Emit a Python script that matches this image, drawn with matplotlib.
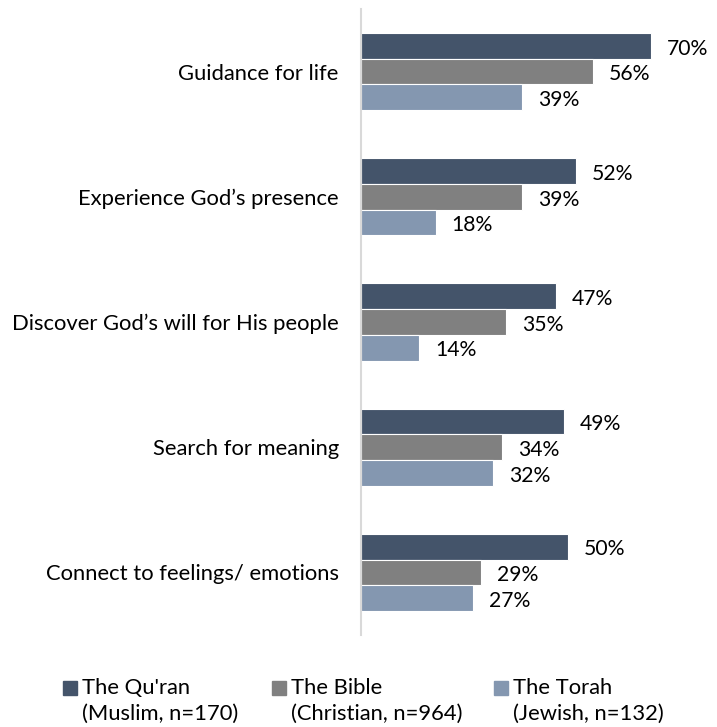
import numpy as np
import matplotlib
matplotlib.use("Agg")
import matplotlib.pyplot as plt
from matplotlib.patches import Rectangle

plt.rcParams['font.family'] = ['Lato', 'DejaVu Sans']

categories = ["Guidance for life", "Experience God\u2019s presence",
              "Discover God\u2019s will for His people", "Search for meaning",
              "Connect to feelings/ emotions"]
quran = [70, 52, 47, 49, 50]
bible = [56, 39, 35, 34, 29]
torah = [39, 18, 14, 32, 27]
series_names = ["The Qu'ran", "The Bible", "The Torah"]
series_notes = ["(Muslim, n=170)", "(Christian, n=964)", "(Jewish, n=132)"]
colors = ["#44546A", "#808080", "#8497B0"]

fig = plt.figure(figsize=(7.17, 7.27), dpi=100)
ax = fig.add_axes([361 / 717, 1 - 635 / 727, 1 - 361 / 717, 626 / 727])

n = len(categories)
y = np.arange(n)
h = 77 / 125 / 3
for i, (vals, col) in enumerate(zip([quran, bible, torah], colors)):
    pos = y - h + i * h
    bars = ax.barh(pos, vals, height=h, color=col, edgecolor="white", linewidth=0.8)
    for b, v in zip(bars, vals):
        ax.annotate(f"{v}%", (b.get_width(), b.get_y() + b.get_height() / 2),
                    xytext=(11.5, -2), textcoords="offset points",
                    va="center", ha="left", fontsize=15.2, color="#000000")

ax.set_ylim(n - 0.5, -0.5)
ax.set_xlim(0, (717 - 361) / 4.14)
ax.set_yticks(y)
ax.set_yticklabels(categories, fontsize=15.8)
ax.tick_params(axis="y", length=0, pad=16)
ax.set_xticks([])
for s in ["top", "right", "bottom"]:
    ax.spines[s].set_visible(False)
ax.spines["left"].set_color("#D9D9D9")
ax.spines["left"].set_linewidth(1.5)

# legend drawn by hand so the sample size sits on its own line
lx = [63, 272, 494]
for x0, col, name, note in zip(lx, colors, series_names, series_notes):
    fig.patches.append(Rectangle((x0 / 717, 1 - 695 / 727), 14 / 717, 14 / 727,
                                 transform=fig.transFigure, color=col))
    fig.text((x0 + 19) / 717, 1 - 688 / 727, name, fontsize=15.8, va="center")
    fig.text((x0 + 19) / 717, 1 - 714 / 727, note, fontsize=15.8, va="center")

fig.savefig("out.png", dpi=100)
